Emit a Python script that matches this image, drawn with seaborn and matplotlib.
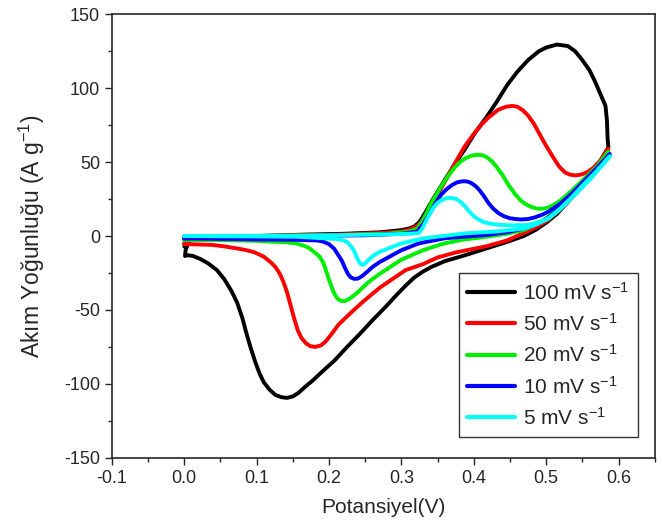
import pandas as pd
import matplotlib
matplotlib.use("Agg")
import matplotlib.pyplot as plt
from matplotlib.ticker import MultipleLocator
import seaborn as sns

# Scan rates (legend labels) and line colours
labels = ["100 mV s$^{-1}$", "50 mV s$^{-1}$", "20 mV s$^{-1}$", "10 mV s$^{-1}$", "5 mV s$^{-1}$"]
colors = ["#000000", "#ff0000", "#00ee00", "#0000ff", "#00ffff"]

# CV loops: anodic branch (0 -> 0.59 V) then cathodic branch back to 0 V
v100 = [0.0, 0.01, 0.05, 0.1, 0.17, 0.22, 0.27, 0.3, 0.31, 0.318, 0.325, 0.332, 0.345, 0.359, 0.373,
        0.388, 0.402, 0.417, 0.432, 0.446, 0.46, 0.475, 0.49, 0.5, 0.515, 0.53, 0.54, 0.55, 0.56,
        0.568, 0.575, 0.582, 0.584, 0.585, 0.586,
        0.575, 0.56, 0.545, 0.53, 0.515, 0.5, 0.485, 0.469, 0.446, 0.42, 0.388, 0.36, 0.341, 0.33,
        0.318, 0.307, 0.295, 0.278, 0.26, 0.243, 0.225, 0.208, 0.19, 0.178, 0.167, 0.158, 0.15,
        0.142, 0.134, 0.126, 0.118, 0.11, 0.104, 0.098, 0.092, 0.086, 0.08, 0.073, 0.065, 0.055,
        0.045, 0.033, 0.022, 0.012, 0.005, 0.001, 0.002, 0.004]
i100 = [-7, -2, -0.5, 0, 1, 1.5, 2.5, 4, 5, 6.5, 9.5, 15, 26, 37, 48,
        59, 70, 80, 91, 102, 111, 119, 125, 127.5, 129.5, 128.5, 125, 119, 112,
        104, 96, 88, 78, 65, 60,
        51, 41, 32, 23, 15, 9, 4, 0, -4, -8, -13, -17, -21, -24,
        -28, -33, -39, -48, -57, -66, -75, -84, -92, -97.5, -102, -106, -108.5,
        -109.5, -109, -107.5, -104, -99, -93, -85, -76, -66, -55, -45, -37, -29,
        -23, -18.5, -15.5, -13.5, -13, -13.5, -9, -7]

v50 = [0.0, 0.01, 0.05, 0.1, 0.2, 0.27, 0.3, 0.315, 0.325, 0.335, 0.35, 0.365, 0.376, 0.388, 0.4,
       0.41, 0.42, 0.434, 0.445, 0.453, 0.46, 0.468, 0.475, 0.483, 0.492, 0.5, 0.51, 0.518, 0.526,
       0.533, 0.54, 0.548, 0.556, 0.565, 0.575, 0.586,
       0.575, 0.56, 0.545, 0.53, 0.515, 0.5, 0.485, 0.469, 0.446, 0.417, 0.376, 0.35, 0.33, 0.306,
       0.288, 0.27, 0.248, 0.23, 0.213, 0.204, 0.196, 0.189, 0.181, 0.174, 0.168, 0.162, 0.157,
       0.152, 0.147, 0.142, 0.137, 0.132, 0.126, 0.12, 0.11, 0.097, 0.085, 0.074, 0.055, 0.039,
       0.02, 0.0]
i50 = [-5, -1.5, -0.5, 0, 0.8, 2, 3, 5, 8, 15, 28, 41, 51, 61, 69,
       75, 80, 85.5, 87.5, 88, 87.5, 85, 81.5, 76, 68, 61, 53, 47, 43,
       41.5, 41, 41.5, 43, 46, 51, 59,
       50, 40, 31, 23, 16, 10, 5.5, 2, -3, -7, -11, -14.5, -19, -23,
       -29, -35, -44, -52, -60, -66, -71, -74, -75, -74.5, -72.5, -69, -64,
       -56, -47, -38, -31, -25.5, -21, -18, -14, -11, -9.5, -8.5, -7, -6,
       -5.7, -5.5]

v20 = [0.0, 0.02, 0.1, 0.2, 0.28, 0.31, 0.322, 0.33, 0.341, 0.353, 0.365, 0.374, 0.382, 0.39, 0.398,
       0.406, 0.413, 0.419, 0.426, 0.432, 0.44, 0.448, 0.4576, 0.465, 0.472, 0.48, 0.488, 0.496,
       0.504, 0.512, 0.521, 0.535, 0.551, 0.57, 0.586,
       0.575, 0.56, 0.545, 0.53, 0.515, 0.5, 0.485, 0.469, 0.445, 0.417, 0.385, 0.359, 0.33, 0.3,
       0.27, 0.255, 0.242, 0.235, 0.228, 0.222, 0.217, 0.212, 0.208, 0.204, 0.2, 0.196, 0.192,
       0.187, 0.18, 0.172, 0.165, 0.155, 0.14, 0.12, 0.097, 0.039, 0.0]
i20 = [-2.7, -1, 0, 0.5, 1.5, 3, 5, 11, 22, 32, 41, 46.5, 50.5, 53, 54.5,
       55, 54.5, 53, 50, 46.5, 41, 34.5, 28, 24, 21.5, 19.5, 18.5, 18.5,
       19.5, 21.5, 24.5, 30.5, 38, 47, 57,
       49.5, 40, 32, 24.5, 17.5, 12, 7.5, 4, 1.5, -0.5, -2.5, -5, -9.6, -16,
       -25.6, -31, -37, -40, -42.5, -44, -44, -42.5, -39.5, -35, -29.5, -23.5, -18,
       -14, -11, -8, -6.5, -5, -4.2, -3.8, -3.2, -2.7, -2.7]

v10 = [0.0, 0.05, 0.15, 0.25, 0.3, 0.322, 0.33, 0.34, 0.347, 0.355, 0.362, 0.37, 0.377, 0.384, 0.39,
       0.396, 0.402, 0.408, 0.414, 0.42, 0.427, 0.434, 0.442, 0.45, 0.4576, 0.466, 0.475, 0.485,
       0.495, 0.504, 0.52, 0.535, 0.55, 0.57, 0.588,
       0.575, 0.56, 0.545, 0.53, 0.515, 0.5, 0.485, 0.469, 0.445, 0.417, 0.385, 0.359, 0.324, 0.3,
       0.27, 0.26, 0.252, 0.246, 0.24, 0.235, 0.23, 0.226, 0.222, 0.218, 0.213, 0.207, 0.2, 0.192,
       0.184, 0.15, 0.097, 0.0]
i10 = [-1.6, -0.7, 0, 0.5, 1.5, 3, 8, 16, 22, 28, 31.5, 34.5, 36.3, 37, 37,
       36, 34, 31, 27, 22.5, 18.5, 15.5, 13.3, 12, 11.5, 11.2, 11.5, 12.7,
       14.5, 16.7, 22, 28.5, 36, 46, 55.5,
       48, 39.5, 31.5, 24, 17, 11.5, 7.5, 5, 2.5, 0.7, -0.5, -1.6, -5, -9.6,
       -17.6, -21, -24.5, -27, -28.8, -29, -28, -25.5, -21.5, -17, -13, -8.5, -5.5, -3.8,
       -3, -2.5, -2.3, -1.6]

v5 = [0.0, 0.155, 0.27, 0.31, 0.324, 0.328, 0.333, 0.338, 0.344, 0.35, 0.357, 0.364, 0.37, 0.376, 0.382,
      0.388, 0.394, 0.4, 0.406, 0.413, 0.422, 0.434, 0.455, 0.475, 0.49, 0.504, 0.52, 0.535, 0.55,
      0.57, 0.588,
      0.575, 0.56, 0.545, 0.53, 0.515, 0.5, 0.485, 0.469, 0.43, 0.388, 0.33, 0.3, 0.27, 0.262, 0.256,
      0.251, 0.247, 0.244, 0.241, 0.238, 0.235, 0.231, 0.226, 0.22, 0.21, 0.155, 0.0]
i5 = [0, 0.2, 1, 1.5, 2, 4.5, 9, 14, 19, 22.5, 24.7, 25.7, 25.8, 25, 23,
      20, 16.5, 13.5, 11.3, 9.6, 8.4, 7.6, 7.2, 7.5, 9.5, 12, 18.5, 26, 34,
      44, 54,
      46.5, 38, 30.5, 23.5, 16.5, 11, 7.5, 5, 3, 1.8, -1.6, -5, -10.7, -13, -15.5,
      -18, -19.5, -19, -17, -14, -10.5, -7.3, -4.5, -3, -2, -0.5, 0]

frames = []
for lab, v, i in zip(labels, [v100, v50, v20, v10, v5], [i100, i50, i20, i10, i5]):
    frames.append(pd.DataFrame({"V": v, "I": i, "rate": lab}))
df = pd.concat(frames, ignore_index=True)

sns.set_style("ticks")
plt.rcParams["font.family"] = ["Liberation Sans", "DejaVu Sans"]
plt.rcParams["mathtext.default"] = "regular"
plt.rcParams["axes.unicode_minus"] = False

fig = plt.figure(figsize=(6.62, 5.28), dpi=100)
ax = fig.add_axes([0.169, 0.133, 0.820, 0.840])

sns.lineplot(data=df, x="V", y="I", hue="rate", hue_order=labels, palette=colors,
             sort=False, estimator=None, linewidth=2.8, ax=ax,
             solid_joinstyle="round", solid_capstyle="round")

ax.set_xlim(-0.1, 0.65)
ax.set_ylim(-150, 150)
ax.xaxis.set_major_locator(MultipleLocator(0.1))
ax.xaxis.set_minor_locator(MultipleLocator(0.05))
ax.yaxis.set_major_locator(MultipleLocator(50))
ax.yaxis.set_minor_locator(MultipleLocator(25))
ax.set_xticklabels([f"{t:.1f}" for t in ax.get_xticks()])
ax.tick_params(which="both", direction="out", top=False, right=False, labelsize=13, width=1)
ax.tick_params(which="major", length=5)
ax.tick_params(which="minor", length=3)
for s in ax.spines.values():
    s.set_linewidth(1.2)
    s.set_visible(True)

ax.set_xlabel("Potansiyel(V)", fontsize=15, labelpad=8)
ax.set_ylabel("Akım Yoğunluğu (A g$^{-1}$)", fontsize=16.5, labelpad=12)

leg = ax.legend(loc="lower right", bbox_to_anchor=(0.969, 0.047), fontsize=15,
                borderaxespad=0, frameon=True, fancybox=False, framealpha=1,
                edgecolor="#333333", handlelength=2.3, labelspacing=0.45,
                borderpad=0.4, handletextpad=0.4)
for line in leg.get_lines():
    line.set_linewidth(3)

fig.savefig("out.png", dpi=100)
